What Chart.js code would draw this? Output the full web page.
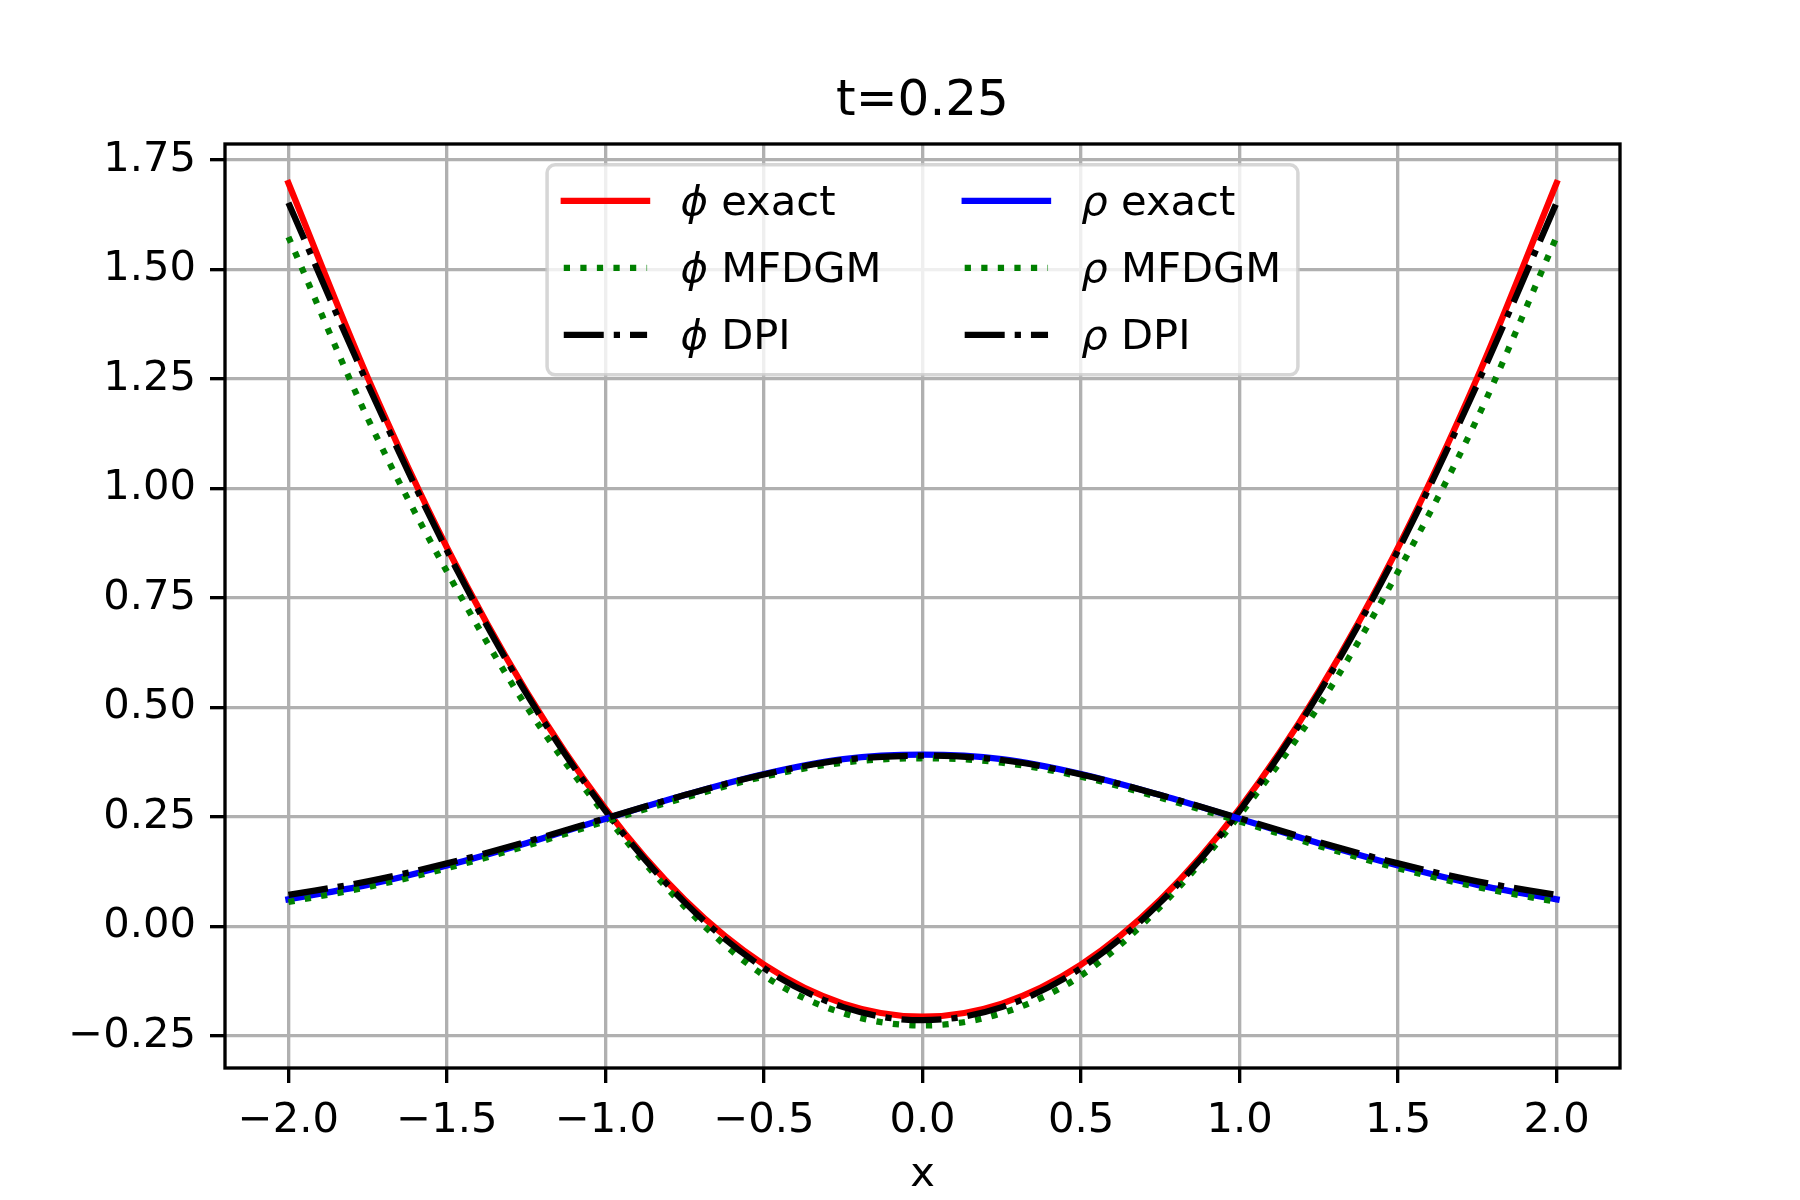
<!DOCTYPE html>
<html>
<head>
<meta charset="utf-8">
<script src="https://cdn.jsdelivr.net/npm/chart.js@4.4.1/dist/chart.umd.min.js"></script>
<style>
    body { margin: 0; background: #ffffff; }
    canvas { display: block; }
</style>
</head>
<body>
<canvas id="courbes" width="1800" height="1200" style="width:1800px;height:1200px"></canvas>
<script>
// points en x (lus sur la figure, pas de 0.25)
var xs = [-2, -1.75, -1.5, -1.25, -1, -0.75, -0.5, -0.25, 0, 0.25, 0.5, 0.75, 1, 1.25, 1.5, 1.75, 2];

// phi
var phiExact = [1.697, 1.253, 0.865, 0.537, 0.269, 0.061, -0.087, -0.176, -0.206, -0.176, -0.087, 0.061, 0.269, 0.537, 0.865, 1.253, 1.697];
var phiMfdgm = [1.574, 1.160, 0.810, 0.503, 0.254, 0.045, -0.112, -0.198, -0.226, -0.198, -0.112, 0.045, 0.254, 0.503, 0.810, 1.160, 1.574];
var phiDpi = [1.652, 1.238, 0.858, 0.532, 0.264, 0.055, -0.095, -0.184, -0.214, -0.184, -0.095, 0.055, 0.264, 0.532, 0.858, 1.238, 1.652];

// rho
var rhoExact = [0.062, 0.095, 0.139, 0.190, 0.246, 0.300, 0.348, 0.382, 0.392, 0.382, 0.348, 0.300, 0.246, 0.190, 0.139, 0.095, 0.062];
var rhoMfdgm = [0.056, 0.090, 0.133, 0.184, 0.240, 0.294, 0.342, 0.374, 0.384, 0.374, 0.342, 0.294, 0.240, 0.184, 0.133, 0.090, 0.056];
var rhoDpi = [0.072, 0.103, 0.144, 0.193, 0.247, 0.300, 0.347, 0.380, 0.390, 0.380, 0.347, 0.300, 0.247, 0.193, 0.144, 0.103, 0.072];

// graduations
var xTicks = [-2, -1.5, -1, -0.5, 0, 0.5, 1, 1.5, 2];
var yTicks = [-0.25, 0, 0.25, 0.5, 0.75, 1, 1.25, 1.5, 1.75];

var police = 'DejaVu Sans';
var fs = 41.67;
var lw = 6.25;
var pointille = [6.25, 10.31];
var traitPoint = [40, 10, 6.25, 10];

function points(ys) {
    return xs.map(function (x, i) { return { x: x, y: ys[i] }; });
}

function serie(label, ys, couleur, dash, rang) {
    return {
        label: label,
        data: points(ys),
        borderColor: couleur,
        borderWidth: lw,
        borderDash: dash,
        borderCapStyle: dash.length ? 'butt' : 'square',
        borderJoinStyle: 'round',
        pointRadius: 0,
        fill: false,
        cubicInterpolationMode: 'monotone',
        order: rang
    };
}

function moins(s) {
    return s.replace('-', '\u2212');
}

// largeur d'une etiquette "grec + texte"
function largeur(ctx, label) {
    var morceaux = label.split(' ');
    var grec = morceaux.shift();
    ctx.font = 'italic ' + fs + 'px "' + police + '"';
    var w = ctx.measureText(grec).width;
    ctx.font = fs + 'px "' + police + '"';
    return w + ctx.measureText(' ' + morceaux.join(' ')).width;
}

function ecrire(ctx, label, x, y) {
    var morceaux = label.split(' ');
    var grec = morceaux.shift();
    ctx.font = 'italic ' + fs + 'px "' + police + '"';
    ctx.fillText(grec, x, y);
    var w = ctx.measureText(grec).width;
    ctx.font = fs + 'px "' + police + '"';
    ctx.fillText(' ' + morceaux.join(' '), x + w, y);
}

// cadre des axes + legende a deux colonnes
var cadre = {
    id: 'cadre',
    afterDraw: function (chart) {
        var ctx = chart.ctx;
        var a = chart.chartArea;
        ctx.save();
        ctx.strokeStyle = '#000000';
        ctx.lineWidth = 3.33;
        ctx.strokeRect(a.left, a.top, a.right - a.left, a.bottom - a.top);

        var ds = chart.data.datasets;
        var col1 = ds.slice(0, 3);
        var col2 = ds.slice(3, 6);
        var w1 = Math.max.apply(null, col1.map(function (d) { return largeur(ctx, d.label); }));
        var w2 = Math.max.apply(null, col2.map(function (d) { return largeur(ctx, d.label); }));
        var bp = 0.4 * fs, hl = 2 * fs, htp = 0.8 * fs, cs = 2 * fs;
        var W = 2 * bp + 2 * (hl + htp) + w1 + cs + w2;
        var H = 210;
        var gauche = (a.left + a.right) / 2 - W / 2;
        var haut = a.top + 0.5 * fs;

        ctx.beginPath();
        ctx.roundRect(gauche, haut, W, H, 8);
        ctx.fillStyle = 'rgba(255,255,255,0.8)';
        ctx.fill();
        ctx.strokeStyle = 'rgba(204,204,204,0.8)';
        ctx.lineWidth = 3.5;
        ctx.stroke();

        var colonnes = [[col1, gauche + bp], [col2, gauche + bp + hl + htp + w1 + cs]];
        colonnes.forEach(function (c) {
            c[0].forEach(function (d, i) {
                var yc = haut + 36 + i * 67;
                ctx.beginPath();
                ctx.setLineDash(d.borderDash);
                ctx.lineCap = d.borderCapStyle;
                ctx.strokeStyle = d.borderColor;
                ctx.lineWidth = lw;
                ctx.moveTo(c[1], yc);
                ctx.lineTo(c[1] + hl, yc);
                ctx.stroke();
                ctx.setLineDash([]);
                ctx.fillStyle = '#000000';
                ctx.textBaseline = 'alphabetic';
                ctx.textAlign = 'left';
                ecrire(ctx, d.label, c[1] + hl + htp, yc + 14);
            });
        });
        ctx.restore();
    }
};

var grille = {
    color: '#b0b0b0',
    lineWidth: 3.33,
    tickColor: '#000000',
    tickLength: 15,
    tickWidth: 3.33
};

var ctx = document.getElementById('courbes');
var graphe = new Chart(ctx, {
    type: 'line',
    data: {
        datasets: [
            serie('\u03d5 exact', phiExact, '#ff0000', [], 6),
            serie('\u03d5 MFDGM', phiMfdgm, '#008000', pointille, 5),
            serie('\u03d5 DPI', phiDpi, '#000000', traitPoint, 4),
            serie('\u03c1 exact', rhoExact, '#0000ff', [], 3),
            serie('\u03c1 MFDGM', rhoMfdgm, '#008000', pointille, 2),
            serie('\u03c1 DPI', rhoDpi, '#000000', traitPoint, 1)
        ]
    },
    options: {
        responsive: false,
        devicePixelRatio: 1,
        animation: false,
        events: [],
        layout: { padding: { left: 0, right: 180, top: 0, bottom: 0 } },
        plugins: {
            legend: { display: false },
            tooltip: { enabled: false },
            title: {
                display: true,
                text: 't=0.25',
                fullSize: false,
                color: '#000000',
                font: { family: police, size: 50, weight: 'normal', lineHeight: 1.2 },
                padding: { top: 72, bottom: 12 }
            }
        },
        scales: {
            x: {
                type: 'linear',
                min: -2.2,
                max: 2.2,
                afterBuildTicks: function (s) {
                    s.ticks = xTicks.map(function (v) { return { value: v }; });
                },
                afterFit: function (s) { s.height = 132; },
                grid: grille,
                border: { display: false },
                ticks: {
                    color: '#000000',
                    padding: 13,
                    maxRotation: 0,
                    font: { family: police, size: fs },
                    callback: function (v) { return moins(v.toFixed(1)); }
                },
                title: {
                    display: true,
                    text: 'x',
                    color: '#000000',
                    font: { family: police, size: fs },
                    padding: { top: 0, bottom: 0 }
                }
            },
            y: {
                type: 'linear',
                min: -0.323,
                max: 1.786,
                afterBuildTicks: function (s) {
                    s.ticks = yTicks.map(function (v) { return { value: v }; });
                },
                afterFit: function (s) { s.width = 225; },
                grid: grille,
                border: { display: false },
                ticks: {
                    color: '#000000',
                    padding: 14,
                    font: { family: police, size: fs },
                    callback: function (v) { return moins(v.toFixed(2)); }
                }
            }
        }
    },
    plugins: [cadre]
});
</script>
</body>
</html>
